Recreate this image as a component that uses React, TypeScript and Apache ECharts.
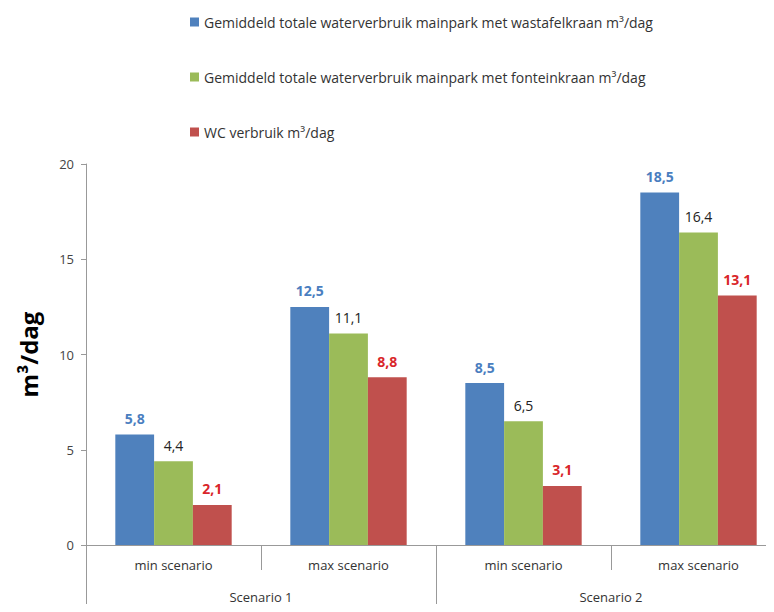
import React, { useEffect, useRef } from "react";
import * as echarts from "echarts";

const subCategories = ["min scenario", "max scenario", "min scenario", "max scenario"];
const groupCategories = ["Scenario 1", "Scenario 2"];
const seriesNames = [
  "Gemiddeld totale waterverbruik mainpark met wastafelkraan m³/dag",
  "Gemiddeld totale waterverbruik mainpark met fonteinkraan m³/dag",
  "WC verbruik m³/dag",
];
const wastafel = [5.8, 12.5, 8.5, 18.5];
const fontein = [4.4, 11.1, 6.5, 16.4];
const wc = [2.1, 8.8, 3.1, 13.1];
const yTicks = [0, 5, 10, 15, 20];

const FONT = "Open Sans";

export default function App() {
  const ref = useRef<HTMLDivElement>(null);
  useEffect(() => {
    if (!ref.current) return;
    const chart = echarts.init(ref.current, null, { renderer: "svg" });
    const fmt = (p: any) => String(p.value).replace(".", ",");
    const colors = ["#4F81BD", "#9BBB59", "#C0504D"];
    const labelStyles = [
      { color: "#4A7EC0", fontWeight: "bold" },
      { color: "#222", fontWeight: "normal" },
      { color: "#D9262A", fontWeight: "bold" },
    ];
    const data = [wastafel, fontein, wc];
    chart.setOption({
      animation: false,
      textStyle: { fontFamily: FONT },
      legend: {
        orient: "vertical",
        left: 185,
        top: 9,
        itemWidth: 9,
        itemHeight: 9,
        itemGap: 39,
        icon: "rect",
        textStyle: { fontFamily: FONT, fontSize: 14, color: "#333", lineHeight: 16 },
        data: seriesNames,
      },
      grid: {
        left: 86,
        width: 700,
        top: 164,
        bottom: 67,
        containLabel: false,
        outerBoundsMode: "none",
      },
      xAxis: [
        {
          type: "category",
          data: subCategories,
          position: "bottom",
          axisLine: { show: true, lineStyle: { color: "#999" } },
          axisTick: { show: true, length: 25, lineStyle: { color: "#999" } },
          axisLabel: { fontFamily: FONT, fontSize: 13, color: "#333", margin: 13 },
        },
        {
          type: "category",
          data: groupCategories,
          position: "bottom",
          axisLine: { show: false },
          axisTick: { show: true, length: 67, lineStyle: { color: "#999" } },
          axisLabel: { fontFamily: FONT, fontSize: 13, color: "#333", margin: 45 },
        },
      ],
      yAxis: {
        type: "value",
        min: 0,
        max: 20,
        interval: 5,
        name: "m³/dag",
        nameLocation: "middle",
        nameRotate: 90,
        nameGap: 46,
        nameTextStyle: { fontFamily: FONT, fontSize: 24, fontWeight: "bold", color: "#000" },
        axisLine: { show: true, lineStyle: { color: "#999" } },
        axisTick: { show: true, length: 5, lineStyle: { color: "#999" } },
        axisLabel: {
          fontFamily: FONT,
          fontSize: 13,
          color: "#444",
          margin: 12,
          formatter: (v: number) => (yTicks.includes(v) ? String(v) : ""),
        },
        splitLine: { show: false },
      },
      series: seriesNames.map((name, i) => ({
        name,
        type: "bar",
        xAxisIndex: 0,
        data: data[i],
        barGap: "0%",
        barCategoryGap: "33.5%",
        itemStyle: { color: colors[i] },
        label: {
          show: true,
          position: "top",
          distance: 9,
          fontFamily: FONT,
          fontSize: 14,
          ...labelStyles[i],
          formatter: fmt,
        },
      })),
    });
    return () => chart.dispose();
  }, []);
  return <div ref={ref} style={{ width: 774, height: 612, margin: -8 }} />;
}
